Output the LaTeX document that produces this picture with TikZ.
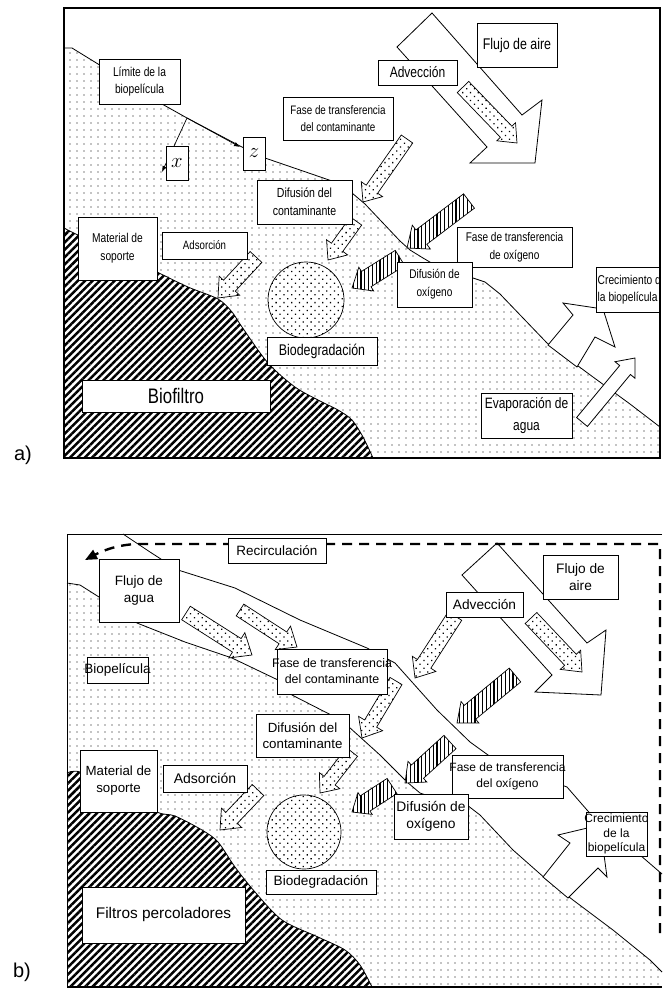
\documentclass[tikz,border=0pt]{standalone}
\usepackage{fontspec}
\setmainfont{Liberation Sans}
\newfontfamily\nf{Liberation Sans}[FakeStretch=0.8]
\usetikzlibrary{patterns.meta,arrows.meta}
\newcommand\fa[2]{\nf\fontsize{#1}{#2}\selectfont}
\newcommand\fb[2]{\fontsize{#1}{#2}\selectfont}
\newcommand\tbox[7]{\node[boxshape,minimum width=#4pt,minimum height=#5pt] (#1) at (#2,#3) {};\node[lbl,font={#6}] (#1-t) at (#1.center) {#7};}
\newcommand\farrow[7]{%
 \pgfmathsetmacro\fang{atan2(-(#5-#3),(#4-#2))}%
 \pgfmathsetmacro\flen{veclen(#4-#2,#5-#3)}%
 \pgfmathsetmacro\fbase{\flen-1.2*#7}%
 \draw[#1,shift={(#2,#3)},rotate=\fang] (0,-#6) -- (\fbase,-#6) -- (\fbase,-#7) -- (\flen,0) -- (\fbase,#7) -- (\fbase,#6) -- (0,#6) -- cycle;}
\tikzset{
 boxshape/.style={draw, fill=white, line width=0.9pt, inner sep=0pt},
 lbl/.style={align=center, inner sep=0pt},
 biofilm/.style={pattern={Dots[distance=7pt,radius=0.7pt]}},
 dotarr/.style={draw, line width=0.7pt, preaction={fill=white}, pattern={Dots[distance=5.5pt,radius=0.9pt,angle=45]}},
 striparr/.style={draw, line width=0.7pt, preaction={fill=white}, pattern={Lines[angle=90,distance=3.8pt,line width=1.3pt]}},
 hatchzone/.style={preaction={fill=white}, pattern={Lines[angle=45,distance=5.2pt,line width=2.5pt]}},
 hollowarr/.style={draw, fill=white, line width=0.8pt},
 bline/.style={line width=0.8pt},
 recirc/.style={line width=2.4pt, dash pattern=on 10pt off 7pt},
}
\begin{document}
\begin{tikzpicture}[x=1pt,y=-1pt]
\useasboundingbox (0,0) rectangle (662,991);
% ================= PANEL A =================
\path[biofilm] (64,48) -- (72,48) -- (98,64) -- (130,84) -- (162,104) -- (187,118) -- (240,146) -- (265,158) -- (300,170) -- (332,181) -- (352,193) -- (365,204) -- (400,241) -- (410,250) -- (423,258) -- (440,268) -- (460,276) -- (473,278) -- (485,282) -- (500,294) -- (547,343) -- (593,377) -- (630,404) -- (660,427) -- (660,458) -- (64,458) -- cycle;
\draw[bline] (64,48) -- (72,48) -- (98,64) -- (130,84) -- (162,104) -- (187,118) -- (240,146) -- (265,158) -- (300,170) -- (332,181) -- (352,193) -- (365,204) -- (400,241) -- (410,250) -- (423,258) -- (440,268) -- (460,276) -- (473,278) -- (485,282) -- (500,294) -- (547,343) -- (593,377) -- (630,404) -- (660,427);
\path[hatchzone] (64,458) -- plot[smooth,tension=0.5] coordinates {(64,228) (80,236) (120,254) (157,272) (188,287) (218,299) (232,312) (242,327) (268,363) (295,387) (320,401) (338,410) (352,420) (363,437) (373,458)} -- cycle;
\draw[bline] plot[smooth,tension=0.5] coordinates {(64,228) (80,236) (120,254) (157,272) (188,287) (218,299) (232,312) (242,327) (268,363) (295,387) (320,401) (338,410) (352,420) (363,437) (373,458)};
\draw[dotarr] (306,300) circle[radius=38];
% big hollow arrows
\draw[hollowarr] (432,13) -- (522,115) -- (542,100) -- (535,163) -- (470,163) -- (487,147) -- (397,47) -- cycle;
\draw[hollowarr] (548,345) -- (573,315) -- (563,303) -- (603,309) -- (615,347) -- (595,337) -- (577,367) -- cycle;
\farrow{hollowarr}{582}{422}{635}{358}{7}{13}
% small arrows
\farrow{dotarr}{463}{87}{517}{143}{8}{13}
\farrow{dotarr}{407}{139}{363}{202}{7}{13}
\farrow{dotarr}{356}{221}{328}{260}{7}{13}
\farrow{dotarr}{256}{257}{218}{298}{8}{14}
\farrow{striparr}{469}{201}{407}{248}{9}{15}
\farrow{striparr}{400}{258}{352}{288}{9}{14}
% x z arrows
\coordinate (lp) at (187,118);
\coordinate (xe) at (162,172);
\coordinate (ze) at (240,147);
\draw[line width=0.7pt,-{Latex[length=6pt,width=4.5pt]}] (lp) -- (xe);
\draw[line width=0.7pt,-{Latex[length=6pt,width=4.5pt]}] (lp) -- (ze);
% boxes
\tbox{lim}{139.5}{81.5}{81}{45}{\fa{12.8}{17}}{Límite de la\\biopelícula}
\tbox{xb}{177}{163}{22}{34}{\fontsize{20}{20}\selectfont}{$x$}
\tbox{zb}{254}{153.5}{22}{33}{\fontsize{20}{20}\selectfont}{$z$}
\tbox{ftcA}{338}{118.5}{110}{43}{\fa{12.3}{17}}{Fase de transferencia\\del contaminante}
\tbox{dcA}{304.5}{202}{95}{44}{\fa{13.2}{18}}{Difusión del\\contaminante}
\tbox{msA}{117.5}{248.5}{79}{63}{\fa{12.8}{18}}{Material de\\soporte}
\tbox{adsA}{204.5}{245.5}{85}{27}{\fa{12.1}{13}}{Adsorción}
\tbox{bioA}{322}{351}{110}{28}{\fa{15.5}{16}}{Biodegradación}
\tbox{bfA}{176}{396}{188}{32}{\fa{21}{22}}{Biofiltro}
\tbox{faA}{517}{45}{80}{44}{\fa{15.5}{16}}{Flujo de aire}
\tbox{advA}{417.5}{72.5}{79}{25}{\fa{15}{16}}{Advección}
\tbox{ftoA}{514.5}{247}{115}{40}{\fa{12.6}{18}}{Fase de transferencia\\de oxígeno}
\tbox{doxA}{434.5}{284.5}{75}{45}{\fa{12.6}{18}}{Difusión de\\oxígeno}
\tbox{evpA}{526.5}{415.5}{91}{45}{\fa{15}{22}}{Evaporación de\\agua}
\begin{scope}
\clip (590,260) rectangle (660,320);
\node[boxshape, anchor=north west, minimum height=45pt, minimum width=72pt] (crecA) at (596,267) {};
\node[lbl, anchor=west, align=left, font={\fa{12.8}{17}}] (crecA-t) at (597.5,289.5) {Crecimiento de\\la biopelícula};
\end{scope}
\draw[line width=2pt] (64,8) rectangle (660,458);
\node[lbl, font={\fb{20}{22}}] (la) at (23,455) {a)};
% ================= PANEL B =================
\path[biofilm] (67,583) -- (80,585) -- (99,597) -- (137,623) -- (185,642) -- (232,658) -- (278,680) -- (292,695) -- (335,717) -- (349,727) -- (380,755) -- (407,782) -- (420,793) -- (440,800) -- (467,805) -- (480,815) -- (513,850) -- (547,880) -- (573,900) -- (613,930) -- (650,960) -- (662,972) -- (662,987) -- (67,987) -- cycle;
\draw[bline] (67,583) -- (80,585) -- (99,597) -- (137,623) -- (185,642) -- (232,658) -- (278,680) -- (292,695) -- (335,717) -- (349,727) -- (380,755) -- (407,782) -- (420,793) -- (440,800) -- (467,805) -- (480,815) -- (513,850) -- (547,880) -- (573,900) -- (613,930) -- (650,960) -- (662,972);
\draw[bline] (123,534) -- (150,552) -- (178,570) -- (235,588) -- (300,620) -- (367,648) -- (395,663) -- (437,710) -- (470,742) -- (488,755) -- (520,770) -- (567,787) -- (587,810) -- (610,835) -- (640,855) -- (662,874);
\path[hatchzone] (67,987) -- plot[smooth,tension=0.5] coordinates {(67,773) (80,772) (120,790) (157,812) (175,816) (202,830) (218,842) (235,867) (255,892) (282,920) (318,937) (345,950) (360,965) (372,987)} -- cycle;
\draw[bline] plot[smooth,tension=0.5] coordinates {(67,773) (80,772) (120,790) (157,812) (175,816) (202,830) (218,842) (235,867) (255,892) (282,920) (318,937) (345,950) (360,965) (372,987)};
\draw[dotarr] (304,832) circle[radius=37];
% big hollow arrows
\draw[hollowarr] (497,543) -- (587,643) -- (606,630) -- (601,695) -- (535,692) -- (552,675) -- (462,575) -- cycle;
\draw[hollowarr] (543,877) -- (570,843) -- (558,835) -- (600,825) -- (607,877) -- (598,868) -- (568,898) -- cycle;
% small arrows
\farrow{dotarr}{186}{613}{252}{655}{8}{15}
\farrow{dotarr}{240}{610}{297}{647}{7}{14}
\farrow{dotarr}{455}{616}{415}{678}{8}{14}
\farrow{dotarr}{531}{618}{582}{672}{8}{14}
\farrow{dotarr}{396}{681}{362}{738}{7}{14}
\farrow{dotarr}{352}{752}{320}{793}{7}{13}
\farrow{dotarr}{258}{790}{220}{830}{8}{14}
\farrow{striparr}{515}{675}{457}{723}{9}{14}
\farrow{striparr}{450}{742}{405}{783}{9}{14}
\farrow{striparr}{392}{786}{352}{812}{9}{13}
% recirculation
\coordinate (rs) at (660,933);
\coordinate (rc) at (660,544);
\coordinate (rm) at (140,544);
\coordinate (re) at (85,560);
\draw[recirc,-{Triangle[length=12pt,width=10pt]}] (rs) -- (rc) -- (rm) .. controls (120,544) and (104,550) .. (re);
% boxes
\tbox{recB}{277}{550.5}{98}{25}{\fb{13.5}{16}}{Recirculación}
\tbox{fagB}{139}{590.5}{80}{63}{\fb{13.5}{17.5}}{Flujo de\\agua}
\tbox{bpB}{117.5}{670}{61}{26}{\fb{13.5}{16}}{Biopelícula}
\tbox{ftcB}{332}{671.5}{110}{45}{\fb{12.4}{16}}{Fase de transferencia\\del contaminante}
\tbox{dcB}{302.5}{735.5}{93}{43}{\fb{13.3}{16.5}}{Difusión del\\contaminante}
\tbox{msB}{118.5}{781}{77}{62}{\fb{13.3}{17}}{Material de\\soporte}
\tbox{adsB}{205}{778.5}{84}{27}{\fb{14}{16}}{Adsorción}
\tbox{bioB}{321}{882}{110}{24}{\fb{13.6}{16}}{Biodegradación}
\tbox{fpB}{163.5}{915}{163}{56}{\fb{15.4}{18}}{Filtros percoladores}
\tbox{faB}{580.5}{577}{75}{44}{\fb{13.7}{17}}{Flujo de\\aire}
\tbox{advB}{484.5}{604.5}{77}{25}{\fb{13.7}{16}}{Advección}
\tbox{ftoB}{507.5}{776.5}{111}{43}{\fb{12}{15.5}}{Fase de transferencia\\del oxígeno}
\tbox{doxB}{431}{816.5}{74}{45}{\fb{13.8}{17}}{Difusión de\\oxígeno}
\tbox{crecB}{616.5}{834}{61}{44}{\fb{12}{14.5}}{Crecimiento\\de la\\biopelícula}
\draw[line width=1pt] (662,534) -- (67,534) -- (67,987);
\draw[line width=2.5pt] (67,987) -- (662,987);
\node[lbl, font={\fb{20}{22}}] (lb) at (22,972) {b)};
\end{tikzpicture}
\end{document}
